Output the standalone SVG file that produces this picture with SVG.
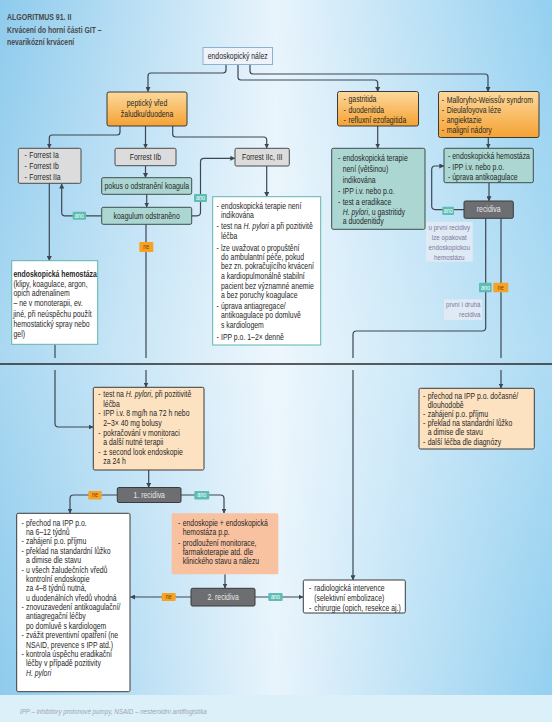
<svg xmlns="http://www.w3.org/2000/svg" width="552" height="722" viewBox="0 0 552 722">
<defs>
<linearGradient id="bg" x1="0" y1="0" x2="1" y2="0">
<stop offset="0" stop-color="#8ecbed"/>
<stop offset="0.5" stop-color="#e8f4fc"/>
<stop offset="1" stop-color="#94d0f0"/>
</linearGradient>
<linearGradient id="bgv" x1="0" y1="0" x2="0" y2="1">
<stop offset="0" stop-color="#ffffff" stop-opacity="0"/>
<stop offset="0.5" stop-color="#ffffff" stop-opacity="0.25"/>
<stop offset="1" stop-color="#ffffff" stop-opacity="0"/>
</linearGradient>
<linearGradient id="org" x1="0" y1="0" x2="0" y2="1">
<stop offset="0" stop-color="#fcd99c"/>
<stop offset="1" stop-color="#f5a233"/>
</linearGradient>
<marker id="ar" viewBox="0 0 10 10" refX="9" refY="5" markerWidth="5" markerHeight="5" orient="auto" markerUnits="userSpaceOnUse">
<path d="M0,0 L10,5 L0,10 z" fill="#3d4752"/>
</marker>
<style>
.t{font-family:"Liberation Sans",Arial,sans-serif;font-size:8.2px;fill:#262626;transform-box:fill-box;transform-origin:0% 50%;transform:scaleX(0.84)}
.c{text-anchor:middle;transform-origin:50% 50%}
.e{text-anchor:end;transform-origin:100% 50%}
.i{font-style:italic}
.bd{font-weight:bold}
.wt{fill:#ffffff}
.lb{font-size:6.4px;text-anchor:middle;transform-origin:50% 50%}
.ln{fill:none;stroke:#3d4752;stroke-width:1.2}
.ar{marker-end:url(#ar)}
.orange{fill:url(#org);stroke:#3a3a3a;stroke-width:1}
.gray{fill:#dcdcdc;stroke:#4a4a4a;stroke-width:1}
.teal{fill:#acd6d2;stroke:#3f4d4d;stroke-width:1}
.dark{fill:#6c6e71;stroke:#3a3a3a;stroke-width:1}
.wtb{fill:#ffffff;stroke:#5fb5ae;stroke-width:1}
.wdb{fill:#ffffff;stroke:#3a3a3a;stroke-width:1}
.peach{fill:#fde2c2;stroke:#3a3a3a;stroke-width:1}
.salmon{fill:#f8c1a0}
.note{fill:#e4ebf4;opacity:0.85}
.nt{fill:#7b789c;font-size:7.4px}
.ano{fill:#5dbdb4}
.ne{fill:#f6a224}
.net{fill:#7a3f00}
.rt{fill:#e8e8e8}
</style>
</defs>
<rect x="0" y="0" width="552" height="722" fill="url(#bg)"/>
<rect x="0" y="0" width="552" height="695" fill="url(#bgv)"/>
<rect x="0" y="695" width="552" height="27" fill="#dcf0fa"/>
<line x1="0" y1="364" x2="552" y2="364" stroke="#2a2a2a" stroke-width="1.3"/>

<g id="title">
<text class="t bd" x="7" y="20" style="font-size:9.2px;fill:#4a4a4a;transform:scaleX(0.76)">ALGORITMUS 91. II</text>
<text class="t bd" x="7" y="33" style="font-size:9px;fill:#4a4a4a;transform:scaleX(0.76)">Krvácení do horní části GIT –</text>
<text class="t bd" x="7" y="45.5" style="font-size:9px;fill:#4a4a4a;transform:scaleX(0.76)">nevarikózní krvácení</text>
</g>

<g id="connectors">
<path class="ln ar" d="M226,64.5 V70 Q226,73 223,73 H151 Q148,73 148,76 V91.5"/>
<path class="ln ar" d="M238,64.5 V77 Q238,80 241,80 H374.7 Q377.7,80 377.7,83 V91.5"/>
<path class="ln ar" d="M250,64.5 V71 Q250,74 253,74 H485 Q488,74 488,77 V91.5"/>
<path class="ln ar" d="M172.7,126 V134 Q172.7,137 175.7,137 H263.7 Q266.7,137 266.7,140 V148"/>
<path class="ln ar" d="M145.5,126 V148"/>
<path class="ln ar" d="M120,126 V132 Q120,135 117,135 H52.3 Q49.3,135 49.3,138 V148"/>
<path class="ln ar" d="M145.5,165.7 V177.5"/>
<path class="ln ar" d="M146.7,194.3 V207"/>
<path class="ln ar" d="M101.7,215.8 H65 Q61.7,215.8 61.7,212.5 V184"/>
<path class="ln ar" d="M191.7,215.8 H197 Q200.5,215.8 200.5,212.3 V161.8 Q200.5,158.3 204,158.3 H234.8"/>
<path class="ln" d="M146,224.3 V358"/>
<path class="ln ar" d="M146,370 V387"/>
<path class="ln ar" d="M49.3,183.3 V260.5"/>
<path class="ln" d="M55,344.3 V358"/>
<path class="ln ar" d="M55,370 V423.5 Q55,427 58.5,427 H93"/>
<path class="ln ar" d="M266.7,166 V196.5"/>
<path class="ln ar" d="M377.7,126 V148"/>
<path class="ln ar" d="M488.3,137.3 V148"/>
<path class="ln ar" d="M489,182.7 V200.8"/>
<path class="ln ar" d="M464,209.6 H435.2 Q431.7,209.6 431.7,206.1 V169.5 Q431.7,166 435.2,166 H443.8"/>
<path class="ln" d="M485.7,218.3 V327.5 Q485.7,331 482.2,331 H356.5 Q353,331 353,334.5 V358"/>
<path class="ln ar" d="M353,370 V579.8"/>
<path class="ln" d="M501,218.3 V358"/>
<path class="ln ar" d="M501,370 V388"/>
<path class="ln ar" d="M148.7,470 V487.3"/>
<path class="ln ar" d="M117.3,495 H73.5 Q70,495 70,498.5 V513"/>
<path class="ln ar" d="M181,495 H220.5 Q224,495 224,498.5 V513"/>
<path class="ln ar" d="M225,574.3 V588"/>
<path class="ln ar" d="M191,597 H130.5"/>
<path class="ln ar" d="M255,597 H303"/>
</g>

<g id="labels">
<rect class="ano" x="72.7" y="211.7" width="13.3" height="8" rx="1"/><text class="t lb wt" x="79.3" y="218">ano</text>
<rect class="ano" x="194" y="194" width="13" height="8" rx="1"/><text class="t lb wt" x="200.5" y="200.3">ano</text>
<rect class="ne" x="139.3" y="242" width="14" height="10" rx="1"/><text class="t lb net" x="146.3" y="249.3">ne</text>
<rect class="ano" x="442.3" y="206.7" width="11.7" height="8.3" rx="1"/><text class="t lb wt" x="448.2" y="213.1">ano</text>
<rect class="ano" x="479" y="282.7" width="12.7" height="9.6" rx="1"/><text class="t lb wt" x="485.4" y="289.7">ano</text>
<rect class="ne" x="493.3" y="282.7" width="15" height="9.6" rx="1"/><text class="t lb net" x="500.8" y="289.7">ne</text>
<rect class="ne" x="88.3" y="491" width="13.4" height="8.4" rx="1"/><text class="t lb net" x="95" y="497.4">ne</text>
<rect class="ano" x="194.3" y="491" width="15" height="8.4" rx="1"/><text class="t lb wt" x="201.8" y="497.4">ano</text>
<rect class="ne" x="161.7" y="593" width="14" height="8" rx="1"/><text class="t lb net" x="168.7" y="599.3">ne</text>
<rect class="ano" x="268.3" y="593" width="14.3" height="8" rx="1"/><text class="t lb wt" x="275.4" y="599.3">ano</text>
</g>

<g id="nalez">
<rect x="203" y="47.5" width="69.5" height="17" fill="#eef2fa" stroke="#8db0d4" stroke-width="1"/>
<text class="t c" x="237.7" y="59">endoskopický nález</text>
</g>

<g id="peptic">
<rect class="orange" x="107" y="92" width="80" height="34" rx="2"/>
<text class="t c" x="147" y="106">peptický vřed</text>
<text class="t c" x="147" y="117">žaludku/duodena</text>
</g>

<g id="gastritida">
<rect class="orange" x="337.5" y="91.5" width="81" height="34.5" rx="2"/>
<text class="t" x="343.5" y="102.3">-</text><text class="t" x="348.5" y="102.3">gastritida</text>
<text class="t" x="343.5" y="112.7">-</text><text class="t" x="348.5" y="112.7">duodenitida</text>
<text class="t" x="343.5" y="123">-</text><text class="t" x="348.5" y="123">refluxní ezofagitida</text>
</g>

<g id="mallory">
<rect class="orange" x="438.5" y="91.5" width="100.5" height="46" rx="2"/>
<text class="t" x="441.7" y="103">-</text><text class="t" x="446.7" y="103">Malloryho-Weissův syndrom</text>
<text class="t" x="441.7" y="113.3">-</text><text class="t" x="446.7" y="113.3">Dieulafoyova léze</text>
<text class="t" x="441.7" y="123.3">-</text><text class="t" x="446.7" y="123.3">angiektazie</text>
<text class="t" x="441.7" y="133.3">-</text><text class="t" x="446.7" y="133.3">maligní nádory</text>
</g>

<g id="forrestIa">
<rect class="gray" x="18.3" y="148.3" width="62.7" height="35" rx="1.5"/>
<text class="t" x="24.5" y="158">-</text><text class="t" x="29.3" y="158">Forrest Ia</text>
<text class="t" x="24.5" y="169">-</text><text class="t" x="29.3" y="169">Forrest Ib</text>
<text class="t" x="24.5" y="179.7">-</text><text class="t" x="29.3" y="179.7">Forrest IIa</text>
</g>

<g id="forrestIIb">
<rect class="gray" x="115" y="148.3" width="61" height="17.4" rx="1.5"/>
<text class="t c" x="145.5" y="160">Forrest IIb</text>
</g>

<g id="pokus">
<rect class="teal" x="101.7" y="177.7" width="90" height="16.6" rx="1.5"/>
<text class="t c" x="146.7" y="189">pokus o odstranění koagula</text>
</g>

<g id="koagulum">
<rect class="teal" x="101.7" y="207.3" width="90" height="17" rx="1.5"/>
<text class="t c" x="146.7" y="218.8">koagulum odstraněno</text>
</g>

<g id="forrestIIc">
<rect class="gray" x="235" y="148.3" width="54.3" height="17.7" rx="1.5"/>
<text class="t c" x="262.2" y="160">Forrest IIc, III</text>
</g>

<g id="hemostaza">
<rect class="wtb" x="11.7" y="260.7" width="86" height="83.6"/>
<text class="t bd" x="13.5" y="277">endoskopická hemostáza</text>
<text class="t" x="13.5" y="287">(klipy, koagulace, argon,</text>
<text class="t" x="13.5" y="296.5">opich adrenalinem</text>
<text class="t" x="13.5" y="306.5">– ne v monoterapii, ev.</text>
<text class="t" x="13.5" y="317">jiné, při neúspěchu použít</text>
<text class="t" x="13.5" y="327">hemostatický spray nebo</text>
<text class="t" x="13.5" y="337">gel)</text>
</g>

<g id="iicBox">
<rect class="wtb" x="212.7" y="196.7" width="108" height="148.3"/>
<text class="t" x="216.5" y="208.7">-</text><text class="t" x="221" y="208.7">endoskopická terapie není</text>
<text class="t" x="221" y="218">indikována</text>
<text class="t" x="216.5" y="228.7">-</text><text class="t" x="221" y="228.7">test na <tspan class="i">H. pylori</tspan> a při pozitivitě</text>
<text class="t" x="221" y="238.7">léčba</text>
<text class="t" x="216.5" y="250.7">-</text><text class="t" x="221" y="250.7">lze uvažovat o propuštění</text>
<text class="t" x="221" y="259.7">do ambulantní péče, pokud</text>
<text class="t" x="221" y="269">bez zn. pokračujícího krvácení</text>
<text class="t" x="221" y="278.7">a kardiopulmonálně stabilní</text>
<text class="t" x="221" y="288.7">pacient bez významné anemie</text>
<text class="t" x="221" y="298">a bez poruchy koagulace</text>
<text class="t" x="216.5" y="308.7">-</text><text class="t" x="221" y="308.7">úprava antiagregace/</text>
<text class="t" x="221" y="318">antikoagulace po domluvě</text>
<text class="t" x="221" y="328">s kardiologem</text>
<text class="t" x="216.5" y="339.7">-</text><text class="t" x="221" y="339.7">IPP p.o. 1–2× denně</text>
</g>

<g id="gastTeal">
<rect class="teal" x="331.7" y="148.3" width="93.3" height="81" rx="1.5"/>
<text class="t" x="338" y="161.3">-</text><text class="t" x="342.7" y="161.3">endoskopická terapie</text>
<text class="t" x="342.7" y="172">není (většinou)</text>
<text class="t" x="342.7" y="183">indikována</text>
<text class="t" x="338" y="194">-</text><text class="t" x="342.7" y="194">IPP i.v. nebo p.o.</text>
<text class="t" x="338" y="204.7">-</text><text class="t" x="342.7" y="204.7">test a eradikace</text>
<text class="t" x="342.7" y="214.7"><tspan class="i">H. pylori</tspan>, u gastritidy</text>
<text class="t" x="342.7" y="224">a duodenitidy</text>
</g>

<g id="mallTeal">
<rect class="teal" x="444" y="148.3" width="89.3" height="34.4" rx="1.5"/>
<text class="t" x="448" y="159">-</text><text class="t" x="452.3" y="159">endoskopická hemostáza</text>
<text class="t" x="448" y="170.3">-</text><text class="t" x="452.3" y="170.3">IPP i.v. nebo p.o.</text>
<text class="t" x="448" y="180.3">-</text><text class="t" x="452.3" y="180.3">úprava antikoagulace</text>
</g>

<g id="recidivaR">
<rect class="dark" x="464" y="201" width="49.3" height="17.3" rx="1.5"/>
<text class="t c rt" x="488.6" y="212.5">recidiva</text>
</g>

<g id="noteR1">
<rect class="note" x="426" y="221.7" width="46.7" height="40"/>
<text class="t c nt" x="449.3" y="229.7">u první recidivy</text>
<text class="t c nt" x="449.3" y="239.7">lze opakovat</text>
<text class="t c nt" x="449.3" y="249.7">endoskopickou</text>
<text class="t c nt" x="449.3" y="259.7">hemostázu</text>
</g>

<g id="noteR2">
<rect class="note" x="444" y="299.3" width="38.3" height="20.7"/>
<text class="t e nt" x="480.5" y="307.3">první i druhá</text>
<text class="t e nt" x="480.5" y="317">recidiva</text>
</g>

<g id="peach1">
<rect class="peach" x="93.3" y="387.3" width="110.7" height="82.7" rx="1.5"/>
<text class="t" x="98.3" y="397.3">-</text><text class="t" x="103.3" y="397.3">test na <tspan class="i">H. pylori</tspan>, při pozitivitě</text>
<text class="t" x="103.3" y="406.9">léčba</text>
<text class="t" x="98.3" y="416.5">-</text><text class="t" x="103.3" y="416.5">IPP i.v. 8 mg/h na 72 h nebo</text>
<text class="t" x="103.3" y="426.1">2–3× 40 mg bolusy</text>
<text class="t" x="98.3" y="435.7">-</text><text class="t" x="103.3" y="435.7">pokračování v monitoraci</text>
<text class="t" x="103.3" y="445.3">a další nutné terapii</text>
<text class="t" x="98.3" y="454.9">-</text><text class="t" x="103.3" y="454.9">± second look endoskopie</text>
<text class="t" x="103.3" y="464.5">za 24 h</text>
</g>

<g id="peachR">
<rect class="peach" x="419" y="388.3" width="115.3" height="60.7" rx="1.5"/>
<text class="t" x="423" y="398.7">-</text><text class="t" x="427.7" y="398.7">přechod na IPP p.o. dočasné/</text>
<text class="t" x="427.7" y="407.9">dlouhodobě</text>
<text class="t" x="423" y="417.1">-</text><text class="t" x="427.7" y="417.1">zahájení p.o. příjmu</text>
<text class="t" x="423" y="426.3">-</text><text class="t" x="427.7" y="426.3">překlad na standardní lůžko</text>
<text class="t" x="427.7" y="435.5">a dimise dle stavu</text>
<text class="t" x="423" y="444.7">-</text><text class="t" x="427.7" y="444.7">další léčba dle diagnózy</text>
</g>

<g id="recid1">
<rect class="dark" x="117.3" y="487.5" width="63.7" height="15" rx="1.5"/>
<text class="t c rt" x="149.2" y="498">1. recidiva</text>
</g>

<g id="whiteBL">
<rect class="wdb" x="16.7" y="513.3" width="113.3" height="178.4" rx="1.5"/>
<text class="t" x="21.5" y="525.7">-</text><text class="t" x="26" y="525.7">přechod na IPP p.o.</text>
<text class="t" x="26" y="535.1">na 6–12 týdnů</text>
<text class="t" x="21.5" y="544.5">-</text><text class="t" x="26" y="544.5">zahájení p.o. příjmu</text>
<text class="t" x="21.5" y="553.8">-</text><text class="t" x="26" y="553.8">překlad na standardní lůžko</text>
<text class="t" x="26" y="563.2">a dimise dle stavu</text>
<text class="t" x="21.5" y="572.6">-</text><text class="t" x="26" y="572.6">u všech žaludečních vředů</text>
<text class="t" x="26" y="582">kontrolní endoskopie</text>
<text class="t" x="26" y="591.3">za 4–8 týdnů nutná,</text>
<text class="t" x="26" y="600.7">u duodenálních vředů vhodná</text>
<text class="t" x="21.5" y="610.1">-</text><text class="t" x="26" y="610.1">znovuzavedení antikoagulační/</text>
<text class="t" x="26" y="619.5">antiagregační léčby</text>
<text class="t" x="26" y="628.8">po domluvě s kardiologem</text>
<text class="t" x="21.5" y="638.2">-</text><text class="t" x="26" y="638.2">zvážit preventivní opatření (ne</text>
<text class="t" x="26" y="647.6">NSAID, prevence s IPP atd.)</text>
<text class="t" x="21.5" y="657">-</text><text class="t" x="26" y="657">kontrola úspěchu eradikační</text>
<text class="t" x="26" y="666.3">léčby v případě pozitivity</text>
<text class="t i" x="26" y="675.7">H. pylori</text>
</g>

<g id="salmon">
<rect class="salmon" x="171.7" y="513.3" width="106.6" height="61" rx="1.5"/>
<text class="t" x="178" y="526.3">-</text><text class="t" x="182.7" y="526.3">endoskopie + endoskopická</text>
<text class="t" x="182.7" y="535.3">hemostáza p.p.</text>
<text class="t" x="178" y="546.3">-</text><text class="t" x="182.7" y="546.3">prodloužení monitorace,</text>
<text class="t" x="182.7" y="554.7">farmakoterapie atd. dle</text>
<text class="t" x="182.7" y="564">klinického stavu a nálezu</text>
</g>

<g id="recid2">
<rect class="dark" x="191" y="588.3" width="64" height="17.7" rx="1.5"/>
<text class="t c rt" x="223" y="600">2. recidiva</text>
</g>

<g id="radio">
<rect class="wdb" x="303.3" y="580" width="102" height="33" rx="1.5"/>
<text class="t" x="309" y="591.3">-</text><text class="t" x="314.3" y="591.3">radiologická intervence</text>
<text class="t" x="314.3" y="600.7">(selektivní embolizace)</text>
<text class="t" x="309" y="611.3">-</text><text class="t" x="314.3" y="611.3">chirurgie (opich, resekce aj.)</text>
</g>

<g id="footer">
<text class="t i" x="20" y="714.5" style="font-size:7.4px;fill:#9aa6ae">IPP – inhibitory protonové pumpy, NSAID – nesteroidní antiflogistika</text>
</g>
</svg>
